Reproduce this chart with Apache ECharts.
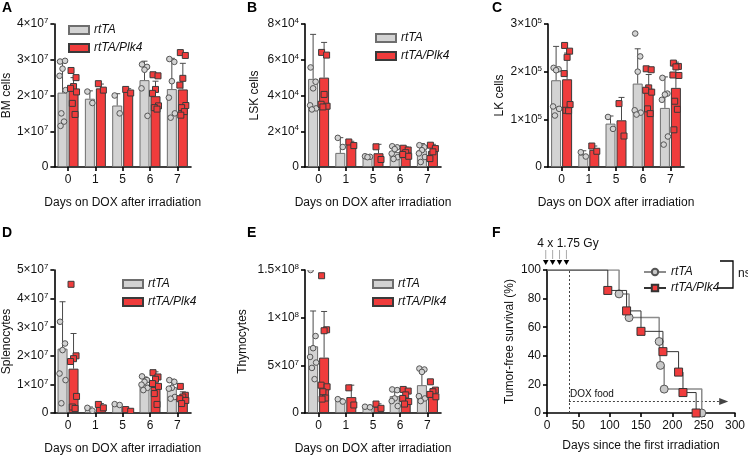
<!DOCTYPE html>
<html><head><meta charset="utf-8">
<script src="https://cdn.jsdelivr.net/npm/echarts@6/dist/echarts.min.js"></script>
<style>html,body{margin:0;padding:0;background:#fff}#c{width:748px;height:456px}</style>
</head><body><div id="c"></div><script>
// ---------- DATA ----------
const categories = ['0', '1', '5', '6', '7'];
const seriesNames = ['rtTA', 'rtTA/Plk4'];

// A: BM cells
const aRtTAMean = [2.08e7, 1.91e7, 1.72e7, 2.43e7, 2.18e7];
const aRtTASD   = [0.88e7, 0.22e7, 0.33e7, 0.53e7, 0.86e7];
const aPlk4Mean = [2.13e7, 2.20e7, 2.14e7, 1.98e7, 2.17e7];
const aPlk4SD   = [0.37e7, 0.12e7, 0.05e7, 0.42e7, 0.73e7];
const aRtTAPts  = [[2.95e7,2.97e7,2.75e7,2.55e7,2.15e7,1.5e7,1.27e7,1.15e7],[2.11e7,1.79e7],[2.0e7,1.5e7],[2.87e7,2.8e7,2.72e7,2.2e7,1.43e7],[3.02e7,2.94e7,2.4e7,1.94e7,1.5e7,1.38e7]];
const aPlk4Pts  = [[2.7e7,2.5e7,2.25e7,2.2e7,2.1e7,1.78e7,1.47e7],[2.33e7,2.15e7],[2.17e7,2.07e7],[2.58e7,2.55e7,2.17e7,2.06e7,1.71e7,1.66e7,1.62e7],[3.2e7,3.12e7,2.48e7,2.29e7,1.72e7,1.66e7,1.55e7,1.45e7]];
const aTicks    = ['0', '1×10^7', '2×10^7', '3×10^7', '4×10^7'];

// B: LSK cells
const bRtTAMean = [4.93e4, 0.79e4, 0.56e4, 0.84e4, 0.93e4];
const bRtTASD   = [2.49e4, 0.85e4, 0.05e4, 0.33e4, 0.38e4];
const bPlk4Mean = [5.0e4, 1.3e4, 0.77e4, 0.84e4, 0.9e4];
const bPlk4SD   = [1.97e4, 0.14e4, 0.5e4, 0.28e4, 0.37e4];
const bRtTAPts  = [[5.57e4,4.77e4,4.4e4,3.45e4,3.28e4,3.22e4],[1.63e4,1.12e4],[0.6e4,0.57e4,0.55e4],[1.16e4,1.1e4,1.0e4,0.75e4,0.55e4,0.45e4],[1.22e4,1.1e4,0.94e4,0.76e4,0.56e4,0.28e4]];
const bPlk4Pts  = [[6.41e4,6.26e4,4.06e4,3.51e4,3.4e4,3.36e4],[1.4e4,1.2e4],[1.13e4,0.42e4],[1.05e4,0.95e4,0.8e4,0.7e4,0.6e4],[1.22e4,1.03e4,0.85e4,0.47e4]];
const bTicks    = ['0', '2×10^4', '4×10^4', '6×10^4', '8×10^4'];

// C: LK cells
const cRtTAMean = [1.82e5, 0.26e5, 0.91e5, 1.75e5, 1.24e5];
const cRtTASD   = [0.71e5, 0.08e5, 0.16e5, 0.73e5, 0.65e5];
const cPlk4Mean = [1.84e5, 0.36e5, 0.98e5, 1.64e5, 1.66e5];
const cPlk4SD   = [0.55e5, 0.08e5, 0.48e5, 0.3e5, 0.54e5];
const cRtTAPts  = [[2.08e5,2.05e5,2.03e5,1.27e5,1.22e5,1.08e5],[0.31e5,0.22e5],[1.05e5,0.8e5],[2.8e5,2.32e5,2.0e5,1.19e5,1.14e5,1.1e5],[1.87e5,1.54e5,1.52e5,1.41e5,0.64e5,0.47e5]];
const cPlk4Pts  = [[2.55e5,2.43e5,2.3e5,1.96e5,1.31e5,1.19e5,1.18e5],[0.44e5,0.33e5],[1.33e5,0.65e5],[2.06e5,2.04e5,1.66e5,1.61e5,1.57e5,1.22e5,1.12e5],[2.18e5,2.11e5,2.1e5,1.93e5,1.92e5,1.38e5,1.21e5,0.78e5]];
const cTicks    = ['0', '1×10^5', '2×10^5', '3×10^5'];

// D: Splenocytes
const dRtTAMean = [2.25e7, 0.12e7, 0.29e7, 0.99e7, 0.91e7];
const dRtTASD   = [1.64e7, 0.09e7, 0.03e7, 0.27e7, 0.27e7];
const dPlk4Mean = [1.55e7, 0.23e7, 0.09e7, 0.91e7, 0.53e7];
const dPlk4SD   = [1.23e7, 0.1e7, 0.03e7, 0.53e7, 0.21e7];
const dRtTAPts  = [[3.19e7,2.43e7,2.2e7,1.38e7,1.15e7,0.34e7],[0.18e7,0.08e7],[0.31e7,0.28e7],[1.28e7,1.15e7,1.09e7,0.99e7,0.88e7,0.8e7],[1.15e7,1.09e7,0.88e7,0.85e7,0.56e7,0.5e7]];
const dPlk4Pts  = [[4.5e7,2.0e7,1.9e7,1.8e7,0.58e7,0.21e7,0.16e7],[0.3e7,0.18e7],[0.12e7,0.06e7],[1.41e7,1.26e7,1.18e7,1.03e7,0.93e7,0.68e7,0.3e7],[0.93e7,0.62e7,0.56e7,0.5e7,0.44e7,0.33e7]];
const dTicks    = ['0', '1×10^7', '2×10^7', '3×10^7', '4×10^7', '5×10^7'];

// E: Thymocytes
const eRtTAMean = [7.0e7, 1.36e7, 0.63e7, 1.77e7, 2.92e7];
const eRtTASD   = [3.7e7, 0.15e7, 0.07e7, 0.8e7, 1.74e7];
const ePlk4Mean = [5.81e7, 1.67e7, 0.66e7, 1.53e7, 1.7e7];
const ePlk4SD   = [4.84e7, 1.25e7, 0.3e7, 0.87e7, 0.87e7];
const eRtTAPts  = [[15.0e7,8.07e7,6.8e7,5.88e7,5.29e7,4.73e7,3.55e7],[1.45e7,1.2e7],[0.66e7,0.6e7],[2.47e7,2.4e7,1.53e7,1.25e7,0.73e7],[4.66e7,4.56e7,4.31e7,1.77e7,1.53e7,1.25e7]];
const ePlk4Pts  = [[14.4e7,8.73e7,8.63e7,2.92e7,2.75e7,2.23e7,1.57e7,1.46e7],[2.64e7,0.84e7],[0.94e7,0.49e7],[2.47e7,2.3e7,1.9e7,1.53e7,1.2e7,0.94e7],[3.27e7,2.4e7,2.23e7,1.95e7,1.7e7]];
const eTicks    = ['0', '5×10^7', '1×10^8', '1.5×10^8'];

// F: Kaplan-Meier
const kmRtTADays = [0, 115, 131, 179, 181, 187, 247];
const kmRtTASurv = [100, 83.3, 66.7, 50, 33.3, 16.7, 0];
const kmPlk4Days = [0, 97, 127, 150, 185, 210, 217, 238];
const kmPlk4Surv = [100, 85.7, 71.4, 57.1, 42.9, 28.6, 14.3, 0];
const irradiationDays = [-2, 9, 20, 31];
const doxStartDay = 35;
const doxArrowEndDay = 282;
const doxArrowLevel = 8;

// ---------- STYLE / LAYOUT ----------
const FONT = "'Liberation Sans', Arial, sans-serif";
const GREY = '#d3d3d3', GREY_B = '#6e6e6e', RED = '#f03c3c', RED_B = '#3a3a3a';
const BAR_W = 10, BAR_GAP = '10%', BAR_OFF = 5.5, CAP = 3;
const JIT = [-2.5, 2.5, 0, -3, 3, -1.2, 1.5, -2];

const panels = [
  {yName:'BM cells', mean:[aRtTAMean,aPlk4Mean], sd:[aRtTASD,aPlk4SD], pts:[aRtTAPts,aPlk4Pts], ticks:aTicks, max:4e7, interval:1e7,
   grid:{left:53, top:24, width:138, height:143}, nameGap:38, legend:{left:63, top:19}},
  {yName:'LSK cells', mean:[bRtTAMean,bPlk4Mean], sd:[bRtTASD,bPlk4SD], pts:[bRtTAPts,bPlk4Pts], ticks:bTicks, max:8e4, interval:2e4,
   grid:{left:305, top:24, width:136, height:143}, nameGap:44, legend:{left:370, top:27}},
  {yName:'LK cells', mean:[cRtTAMean,cPlk4Mean], sd:[cRtTASD,cPlk4SD], pts:[cRtTAPts,cPlk4Pts], ticks:cTicks, max:3e5, interval:1e5,
   grid:{left:548, top:24, width:136, height:143}, nameGap:42, legend:null},
  {yName:'Splenocytes', mean:[dRtTAMean,dPlk4Mean], sd:[dRtTASD,dPlk4SD], pts:[dRtTAPts,dPlk4Pts], ticks:dTicks, max:5e7, interval:1e7,
   grid:{left:53, top:270, width:138, height:143}, nameGap:40, legend:{left:117, top:273}},
  {yName:'Thymocytes', mean:[eRtTAMean,ePlk4Mean], sd:[eRtTASD,ePlk4SD], pts:[eRtTAPts,ePlk4Pts], ticks:eTicks, max:1.5e8, interval:5e7,
   grid:{left:305, top:270, width:136, height:143}, nameGap:56, legend:{left:367, top:273}},
];

const axisLine = {show:true, lineStyle:{color:'#000', width:1.6}};
const axisTick = {show:true, length:4, lineStyle:{color:'#000', width:1.6}};
const nameStyle = {fontFamily:FONT, fontSize:12, color:'#111'};

function tickFormatter(ticks, interval){
  return function(v){
    const t = ticks[Math.round(v / interval)] || '';
    if (t.indexOf('^') < 0) return '{b|' + t + '}';
    const p = t.split('^');
    return '{b|' + p[0] + '}{s|' + p[1] + '}';
  };
}
const tickRich = {
  b:{fontFamily:FONT, fontSize:12, color:'#111', lineHeight:14},
  s:{fontFamily:FONT, fontSize:8, color:'#111', lineHeight:8, verticalAlign:'top', padding:[0,0,5,0]}
};

const grids = [], xAxes = [], yAxes = [], series = [], legends = [];

panels.forEach((p, pi) => {
  grids.push(p.grid);
  xAxes.push({type:'category', gridIndex:pi, data:categories, boundaryGap:true,
    axisLine, axisTick:Object.assign({alignWithLabel:true}, axisTick),
    axisLabel:{fontFamily:FONT, fontSize:12, color:'#111', margin:7},
    name:'Days on DOX after irradiation', nameLocation:'middle', nameGap:30, nameTextStyle:nameStyle});
  yAxes.push({type:'value', gridIndex:pi, min:0, max:p.max, interval:p.interval, splitLine:{show:false},
    axisLine, axisTick,
    axisLabel:{formatter:tickFormatter(p.ticks, p.interval), rich:tickRich, margin:6},
    name:p.yName, nameLocation:'middle', nameGap:p.nameGap, nameTextStyle:nameStyle});
  [0,1].forEach(g => {
    series.push({type:'bar', name:seriesNames[g], xAxisIndex:pi, yAxisIndex:pi, data:p.mean[g],
      barWidth:BAR_W, barGap:BAR_GAP, z:2,
      itemStyle:{color:g?RED:GREY, borderColor:g?RED_B:GREY_B, borderWidth:1}});
  });
  const errData = [];
  [0,1].forEach(g => p.mean[g].forEach((m, i) => errData.push([i, m, p.sd[g][i], g])));
  series.push({type:'custom', name:'err'+pi, xAxisIndex:pi, yAxisIndex:pi, z:3, silent:true,
    data:errData, encode:{x:0, y:1},
    renderItem:function(params, api){
      const i=api.value(0), m=api.value(1), s=api.value(2), g=api.value(3);
      const b=api.coord([i, m]), t=api.coord([i, m+s]);
      const x=b[0] + (g ? BAR_OFF : -BAR_OFF);
      return {type:'group', children:[
        {type:'line', shape:{x1:x, y1:b[1], x2:x, y2:t[1]}, style:{stroke:'#4a4a4a', lineWidth:1}},
        {type:'line', shape:{x1:x-CAP, y1:t[1], x2:x+CAP, y2:t[1]}, style:{stroke:'#4a4a4a', lineWidth:1}}
      ]};
    }});
  const ptData = [];
  [0,1].forEach(g => p.pts[g].forEach((arr, i) => arr.forEach((v, k) => ptData.push([i, v, g, k]))));
  series.push({type:'custom', name:'pts'+pi, xAxisIndex:pi, yAxisIndex:pi, z:4, silent:true, clip:true,
    data:ptData, encode:{x:0, y:1},
    renderItem:function(params, api){
      const i=api.value(0), v=api.value(1), g=api.value(2), k=api.value(3);
      const c=api.coord([i, v]);
      const x=c[0] + (g ? BAR_OFF : -BAR_OFF) + JIT[k % JIT.length];
      if (g === 0) return {type:'circle', shape:{cx:x, cy:c[1], r:2.8}, style:{fill:GREY, stroke:'#555', lineWidth:1}};
      return {type:'rect', shape:{x:x-3, y:c[1]-3, width:6, height:6}, style:{fill:RED, stroke:RED_B, lineWidth:1}};
    }});
  if (p.legend) legends.push({left:p.legend.left, top:p.legend.top, orient:'vertical', itemWidth:20, itemHeight:8, itemGap:6,
    selectedMode:false, data:seriesNames, textStyle:{fontFamily:FONT, fontSize:12, fontStyle:'italic', color:'#111'}, icon:'rect'});
});

// Panel F
const fi = panels.length;
grids.push({left:547, top:270, width:188, height:143});
xAxes.push({type:'value', gridIndex:fi, min:0, max:300, interval:50, splitLine:{show:false}, axisLine, axisTick,
  axisLabel:{fontFamily:FONT, fontSize:12, color:'#111', margin:7},
  name:'Days since the first irradiation', nameLocation:'middle', nameGap:27, nameTextStyle:nameStyle});
yAxes.push({type:'value', gridIndex:fi, min:0, max:100, interval:20, splitLine:{show:false}, axisLine, axisTick,
  axisLabel:{fontFamily:FONT, fontSize:12, color:'#111', margin:6},
  name:'Tumor-free survival (%)', nameLocation:'middle', nameGap:31, nameTextStyle:nameStyle});

function kmData(days, surv){ return days.map((d,i) => i === 0 ? {value:[d, surv[i]], symbol:'none'} : [d, surv[i]]); }
series.push({type:'line', name:'F-rtTA', xAxisIndex:fi, yAxisIndex:fi, step:'end', z:5,
  data:kmData(kmRtTADays, kmRtTASurv), symbol:'circle', symbolSize:8,
  itemStyle:{color:'#c8c8c8', borderColor:'#555', borderWidth:1}, lineStyle:{color:'#8c8c8c', width:1.5},
  markLine:{silent:true, symbol:'none', label:{show:false}, animation:false,
    lineStyle:{type:[2,2], color:'#444', width:1},
    data:[
      [{coord:[doxStartDay, 0]}, {coord:[doxStartDay, 100]}],
      [{coord:[doxStartDay, doxArrowLevel], symbol:'none'}, {coord:[doxArrowEndDay, doxArrowLevel], symbol:'triangle', symbolSize:[7,9]}]
    ]}});
series.push({type:'line', name:'F-rtTA/Plk4', xAxisIndex:fi, yAxisIndex:fi, step:'end', z:6,
  data:kmData(kmPlk4Days, kmPlk4Surv), symbol:'rect', symbolSize:8,
  itemStyle:{color:RED, borderColor:'#333', borderWidth:1}, lineStyle:{color:'#333', width:1}});
// irradiation markers
series.push({type:'custom', name:'irr', xAxisIndex:fi, yAxisIndex:fi, z:7, silent:true, clip:false,
  data:irradiationDays.map(d => [d, 100]), encode:{x:0, y:1},
  renderItem:function(params, api){
    const c = api.coord([api.value(0), api.value(1)]);
    const x = c[0], y = c[1] - 5;
    return {type:'group', children:[
      {type:'line', shape:{x1:x, y1:y-15, x2:x, y2:y-6}, style:{stroke:'#aaa', lineWidth:1}},
      {type:'polygon', shape:{points:[[x-2.8, y-5], [x+2.8, y-5], [x, y]]}, style:{fill:'#000'}}
    ]};
  }});
legends.push({left:638, top:261, orient:'vertical', itemWidth:22, itemHeight:8, itemGap:4, selectedMode:false,
  data:['F-rtTA','F-rtTA/Plk4'], formatter:n => n.replace('F-',''),
  textStyle:{fontFamily:FONT, fontSize:12, fontStyle:'italic', color:'#111'}});

const letter = (t, x, y) => ({type:'text', left:x, top:y, style:{text:t, font:"bold 14px " + FONT, fill:'#000'}});
const graphic = [
  letter('A', 2, 1), letter('B', 247, 1), letter('C', 492, 1),
  letter('D', 2, 226), letter('E', 247, 226), letter('F', 492, 226),
  {type:'text', x:568, y:244, style:{text:'4 x 1.75 Gy', font:"12px " + FONT, fill:'#111', textAlign:'center', textVerticalAlign:'middle'}},
  {type:'text', x:570, y:394, style:{text:'DOX food', font:"10px " + FONT, fill:'#111', textAlign:'left', textVerticalAlign:'middle'}},
  {type:'polyline', shape:{points:[[720,261],[733,261],[733,288],[718,288]]}, style:{stroke:'#000', lineWidth:1.3, fill:null}},
  {type:'text', x:738, y:274, style:{text:'ns', font:"12px " + FONT, fill:'#111', textAlign:'left', textVerticalAlign:'middle'}}
];

const chart = echarts.init(document.getElementById('c'), null, {renderer:'canvas'});
chart.setOption({animation:false, backgroundColor:'#fff', textStyle:{fontFamily:FONT},
  grid:grids, xAxis:xAxes, yAxis:yAxes, series, legend:legends, graphic});
</script></body></html>
